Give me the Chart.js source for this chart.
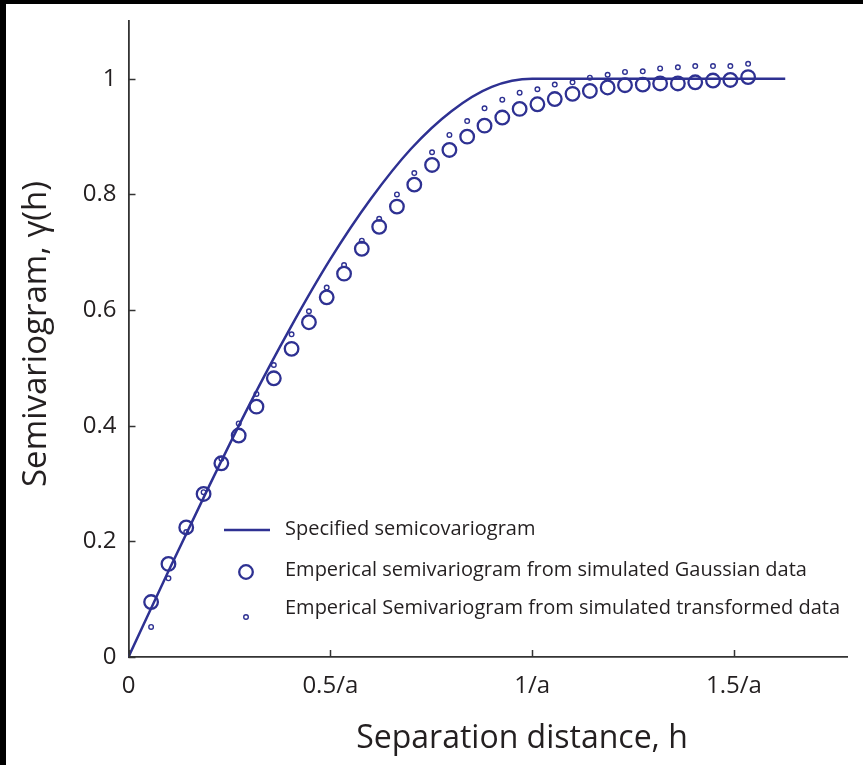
<!DOCTYPE html>
<html><head><meta charset="utf-8">
<script src="https://cdn.jsdelivr.net/npm/chart.js@4/dist/chart.umd.min.js"></script>
<style>html,body{margin:0;padding:0;background:#fff;overflow:hidden}#wrap{position:relative;width:863px;height:765px}canvas{display:block}</style>
</head><body><div id="wrap"><canvas id="c" width="863" height="765"></canvas></div>
<script>
// ---- data ----
const seriesNames = [
  'Specified semicovariogram',
  'Emperical semivariogram from simulated Gaussian data',
  'Emperical Semivariogram from simulated transformed data'
];
const modelH     = [0, 0.1, 0.2, 0.3, 0.4, 0.5, 0.6, 0.7, 0.8, 0.9, 1.0, 1.627];
const modelGamma = [0, 0.150, 0.296, 0.437, 0.568, 0.688, 0.792, 0.879, 0.944, 0.986, 1.0, 1.0];
const lagH = [0.056, 0.099, 0.143, 0.186, 0.230, 0.273, 0.317, 0.360, 0.404, 0.447,
              0.491, 0.534, 0.578, 0.621, 0.665, 0.708, 0.752, 0.795, 0.839, 0.882,
              0.926, 0.969, 1.013, 1.056, 1.100, 1.143, 1.187, 1.230, 1.274, 1.317,
              1.361, 1.404, 1.448, 1.491, 1.535];
const gaussGamma = [0.095, 0.161, 0.224, 0.282, 0.335, 0.383, 0.433, 0.482, 0.533, 0.579,
                    0.622, 0.663, 0.706, 0.744, 0.779, 0.817, 0.851, 0.877, 0.900, 0.919,
                    0.933, 0.948, 0.956, 0.965, 0.974, 0.979, 0.985, 0.989, 0.990, 0.992,
                    0.992, 0.994, 0.997, 0.998, 1.003];
const transGamma = [0.052, 0.136, 0.216, 0.285, 0.343, 0.404, 0.455, 0.505, 0.558, 0.598,
                    0.639, 0.678, 0.720, 0.758, 0.800, 0.837, 0.873, 0.903, 0.927, 0.949,
                    0.964, 0.976, 0.982, 0.990, 0.994, 1.002, 1.007, 1.012, 1.013, 1.018,
                    1.020, 1.022, 1.022, 1.022, 1.026];
const xTickValues = [0, 0.5, 1, 1.5];
const xTickLabels = ['0', '0.5/a', '1/a', '1.5/a'];
const yTickValues = [0, 0.2, 0.4, 0.6, 0.8, 1];
const yTickLabels = ['0', '0.2', '0.4', '0.6', '0.8', '1'];
const xTitle = 'Separation distance, h';
const yTitle = 'Semivariogram, \u03b3(h)';

// ---- style ----
const BLUE = '#2e3192';
const INK = '#231f20';
const FONT = '"Open Sans", "DejaVu Sans", sans-serif';

const toXY = (xs, ys) => xs.map((x, i) => ({x: x, y: ys[i]}));

const decor = {
  id: 'decor',
  beforeDraw(chart) {
    const c = chart.ctx;
    c.save();
    c.fillStyle = '#fff';
    c.fillRect(0, 0, chart.width, chart.height);
    c.fillStyle = '#000';
    c.fillRect(0, 0, chart.width, 4);
    c.fillRect(0, 0, 6, chart.height);
    c.restore();
  },
  afterDraw(chart) {
    const c = chart.ctx, xs = chart.scales.x, ys = chart.scales.y, a = chart.chartArea;
    c.save();
    // inward ticks
    c.strokeStyle = '#333'; c.lineWidth = 1.5;
    yTickValues.forEach(v => {
      const y = Math.round(ys.getPixelForValue(v)) + 0.5;
      c.beginPath(); c.moveTo(a.left, y); c.lineTo(a.left + 7, y); c.stroke();
    });
    xTickValues.forEach(v => {
      const x = Math.round(xs.getPixelForValue(v)) + 0.5;
      c.beginPath(); c.moveTo(x, a.bottom); c.lineTo(x, a.bottom - 7); c.stroke();
    });
    // axis titles
    c.fillStyle = INK;
    c.textAlign = 'center'; c.textBaseline = 'alphabetic';
    c.font = '32px ' + FONT;
    c.fillText(xTitle, 522, 748);
    c.font = '33px ' + FONT;
    c.translate(46, 334); c.rotate(-Math.PI / 2);
    c.fillText(yTitle, 0, 0);
    c.setTransform(1, 0, 0, 1, 0, 0);
    // legend
    c.font = '20px ' + FONT;
    c.textAlign = 'left'; c.textBaseline = 'middle';
    const tx = 285, rows = [529, 570, 608];
    c.strokeStyle = BLUE; c.lineWidth = 2.5;
    c.beginPath(); c.moveTo(224, 530); c.lineTo(270, 530); c.stroke();
    c.lineWidth = 2.3;
    c.beginPath(); c.arc(246, 572, 6.8, 0, Math.PI * 2); c.stroke();
    c.lineWidth = 1.4;
    c.beginPath(); c.arc(246, 617, 2.3, 0, Math.PI * 2); c.stroke();
    c.fillStyle = INK;
    seriesNames.forEach((n, i) => c.fillText(n, tx, rows[i]));
    c.restore();
  }
};

new Chart(document.getElementById('c'), {
  type: 'scatter',
  data: {
    datasets: [
      {label: seriesNames[1], data: toXY(lagH, gaussGamma), showLine: false,
       pointStyle: 'circle', pointRadius: 6.8, pointBorderWidth: 2.3,
       borderColor: BLUE, backgroundColor: 'rgba(0,0,0,0)', pointHoverRadius: 6.8},
      {label: seriesNames[2], data: toXY(lagH, transGamma), showLine: false,
       pointStyle: 'circle', pointRadius: 2.3, pointBorderWidth: 1.4,
       borderColor: BLUE, backgroundColor: 'rgba(0,0,0,0)', pointHoverRadius: 2.3},
      {label: seriesNames[0], data: toXY(modelH, modelGamma), showLine: true,
       borderColor: BLUE, borderWidth: 2.5, pointRadius: 0, fill: false,
       cubicInterpolationMode: 'monotone'}
    ]
  },
  options: {
    responsive: false, animation: false, devicePixelRatio: 1,
    layout: {padding: {left: 0, right: 16, top: 21, bottom: 0}},
    plugins: {legend: {display: false}, tooltip: {enabled: false}},
    scales: {
      x: {
        type: 'linear', min: 0, max: 1.78,
        afterBuildTicks: s => { s.ticks = xTickValues.map(v => ({value: v})); },
        afterFit: s => { s.height = 108; s.paddingLeft = 0; s.paddingRight = 0; },
        grid: {display: false, drawTicks: false},
        border: {display: true, color: '#333', width: 1.8},
        ticks: {padding: 15, color: INK, font: {family: FONT, size: 24},
                callback: (v) => xTickLabels[xTickValues.indexOf(v)] ?? ''}
      },
      y: {
        type: 'linear', min: 0, max: 1.1,
        afterBuildTicks: s => { s.ticks = yTickValues.map(v => ({value: v})); },
        afterFit: s => { s.width = 128.5; s.paddingTop = 0; s.paddingBottom = 0; },
        grid: {display: false, drawTicks: false},
        border: {display: true, color: '#333', width: 1.8},
        ticks: {padding: 12, color: INK, font: {family: FONT, size: 24},
                callback: (v) => yTickLabels[yTickValues.indexOf(v)] ?? ''}
      }
    }
  },
  plugins: [decor]
});
</script>
</body></html>
